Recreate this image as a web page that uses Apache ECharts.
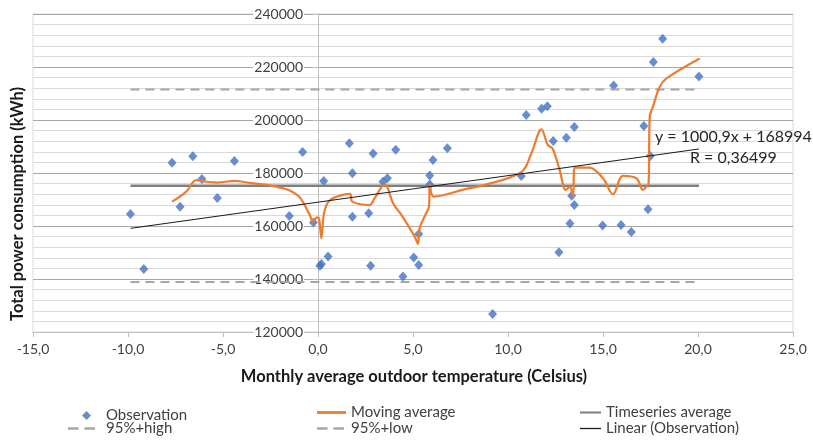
<!DOCTYPE html>
<html>
<head>
<meta charset="utf-8">
<script src="https://cdn.jsdelivr.net/npm/echarts@6/dist/echarts.min.js"></script>
<style>
  html, body { margin: 0; padding: 0; background: #fff; }
  #chart { width: 813px; height: 447px; }
</style>
</head>
<body>
<div id="chart"></div>
<script>
// Monthly observations: outdoor temperature (°C) vs. total power consumption (kWh)
const obsTemp = [
  -9.87, -9.17, -7.68, -7.26, -6.59, -6.11, -5.30, -4.40, -1.51, -0.81,
  -0.24, 0.10, 0.18, 0.30, 0.53, 1.65, 1.81, 1.81, 2.67, 2.77,
  2.90, 3.42, 3.65, 4.09, 4.47, 5.04, 5.30, 5.30, 5.88, 5.88,
  6.05, 6.81, 9.19, 10.70, 10.96, 11.77, 12.07, 12.38, 12.68, 13.07,
  13.26, 13.35, 13.49, 13.49, 14.98, 15.56, 15.95, 16.49, 17.15, 17.37,
  17.49, 17.65, 18.14, 20.05
];
const obsPower = [
  164500, 143800, 183900, 167300, 186300, 177700, 170600, 184500, 163800, 187900,
  161300, 145000, 145700, 177000, 148500, 191200, 179900, 163500, 164800, 145000,
  187400, 176700, 178000, 188800, 140900, 148100, 145300, 157000, 175700, 179100,
  184900, 189300, 126800, 178900, 201900, 204200, 205200, 192100, 150100, 193300,
  160900, 171400, 167900, 197400, 160200, 213000, 160400, 157700, 197700, 166300,
  186400, 221900, 230700, 216400
];

// Moving average of consumption, ordered by temperature
const maTemp = [
  -7.68, -6.93, -6.40, -5.87, -5.30, -4.40, -3.60, -2.65, -2.02, -1.49,
  -0.96, -0.44, -0.26, -0.05, 0.05, 0.18, 0.32, 0.62, 1.67, 1.81,
  2.72, 2.98, 3.51, 3.63, 3.95, 4.39, 5.09, 5.26, 5.35, 5.70,
  5.84, 5.89, 6.09, 7.81, 8.51, 10.69, 11.23, 11.76, 12.10, 12.34,
  12.72, 13.04, 13.25, 13.42, 13.51, 14.30, 15.00, 15.53, 16.05, 16.76,
  17.10, 17.28, 17.40, 17.46, 17.63, 17.98, 18.34, 20.09
];
const maPower = [
  169200, 173000, 177300, 176700, 176400, 177000, 176300, 175500, 174500, 173400,
  170800, 164300, 161700, 163300, 163000, 155400, 165000, 169700, 172100, 169200,
  167900, 170500, 175500, 175100, 168600, 164200, 156000, 153300, 159200, 164900,
  167300, 175500, 171100, 174000, 175000, 180300, 187400, 196500, 190500, 189300,
  181100, 173600, 174800, 171300, 182100, 182000, 178000, 172000, 178900, 178000,
  173600, 174800, 176000, 201200, 205000, 212500, 215700, 223200
];

// Reference levels and fitted trend
const seriesAverage = 175200;
const band95High = 211500;
const band95Low = 138900;
const trendSlope = 1000.9;
const trendIntercept = 168994;
const trendText = ['y = 1000,9x + 168994', 'R = 0,36499'];

// Axis ranges
const xMin = -15, xMax = 25, xStep = 5;
const yMin = 120000, yMax = 240000, yStep = 20000;

const xFrom = Math.min(...obsTemp);
const xTo = Math.max(...obsTemp);
const hLine = v => [[xFrom, v], [xTo, v]];
const trendAt = x => trendSlope * x + trendIntercept;

const FONT = 'Lato';
const labelColor = '#404040';
const GRID_LEFT = 33;

// Legend glyphs: plain strokes for lines, two dashes for the 95% bands
const ICON_THICK = 'path://M0,0h26v2.5h-26z';
const ICON_THIN = 'path://M0,0h20v1.2h-20z';
const ICON_DASH = 'path://M0,0h9v2h-9zM14,0h9v2h-9z';

const chart = echarts.init(document.getElementById('chart'), null, { renderer: 'canvas' });

function legendAt(name, icon, left, top, width, height, textPad) {
  return {
    data: [{ name: name, icon: icon }],
    left: left,
    top: top,
    orient: 'horizontal',
    itemWidth: width,
    itemHeight: height,
    padding: 0,
    selectedMode: false,
    textStyle: {
      fontFamily: FONT, fontSize: 15, color: labelColor,
      padding: [0, 0, 0, textPad || 0]
    }
  };
}

const option = {
  animation: false,
  backgroundColor: '#fff',
  grid: {
    left: GRID_LEFT, right: 20, top: 14, bottom: 115,
    containLabel: false,
    outerBoundsMode: 'none',
    show: true, borderColor: '#d9d9d9', borderWidth: 1
  },
  xAxis: {
    type: 'value',
    min: xMin, max: xMax, interval: xStep,
    axisLine: { show: true, onZero: false, lineStyle: { color: '#bfbfbf', width: 1 } },
    axisTick: { show: true, length: 5, lineStyle: { color: '#bfbfbf' } },
    splitLine: { show: false },
    axisLabel: {
      margin: 10,
      fontFamily: FONT, fontSize: 14, color: labelColor,
      formatter: v => v.toFixed(1).replace('.', ',')
    }
  },
  yAxis: {
    type: 'value',
    position: 'left',
    offset: 0,
    min: yMin, max: yMax, interval: yStep,
    axisLine: { show: true, onZero: false, lineStyle: { color: '#bfbfbf', width: 1 } },
    axisTick: { show: true, length: 5, lineStyle: { color: '#bfbfbf' } },
    minorTick: { show: false, splitNumber: 5 },
    splitLine: { show: true, lineStyle: { color: '#a6a6a6', width: 1 } },
    minorSplitLine: { show: true, lineStyle: { color: '#d9d9d9', width: 1 } },
    axisLabel: {
      margin: 14,
      fontFamily: FONT, fontSize: 14, color: labelColor,
      backgroundColor: '#fff',
      padding: [0, 1, 0, 1],
      formatter: v => String(v)
    }
  },
  legend: [
    legendAt('Observation', 'diamond', 82, 408, 9, 9, 10),
    legendAt('Moving average', ICON_THICK, 317, 405, 29, 14),
    legendAt('Timeseries average', ICON_THICK, 580, 405, 21, 14),
    legendAt('95%+high', ICON_DASH, 68, 421, 27, 14, 6),
    legendAt('95%+low', ICON_DASH, 317, 421, 27, 14, 2),
    legendAt('Linear (Observation)', ICON_THIN, 580, 421, 21, 14)
  ],
  series: [
    {
      name: 'Observation',
      type: 'scatter',
      z: 1,
      symbol: 'diamond',
      symbolSize: [9, 10],
      itemStyle: { color: '#4472c4' },
      data: obsTemp.map((t, i) => [t, obsPower[i]])
    },
    {
      name: 'Timeseries average',
      type: 'line',
      z: 2,
      symbol: 'none',
      lineStyle: { color: '#7f7f7f', width: 2.5 },
      itemStyle: { color: '#7f7f7f' },
      data: hLine(seriesAverage)
    },
    {
      name: '95%+high',
      type: 'line',
      z: 2,
      symbol: 'none',
      lineStyle: { color: '#a6a6a6', width: 2, type: [9, 6] },
      itemStyle: { color: '#a6a6a6' },
      data: hLine(band95High)
    },
    {
      name: '95%+low',
      type: 'line',
      z: 2,
      symbol: 'none',
      lineStyle: { color: '#a6a6a6', width: 2, type: [9, 6] },
      itemStyle: { color: '#a6a6a6' },
      data: hLine(band95Low)
    },
    {
      name: 'Moving average',
      type: 'line',
      z: 3,
      symbol: 'none',
      smooth: 0.35,
      lineStyle: { color: '#ed7d31', width: 2.25 },
      itemStyle: { color: '#ed7d31' },
      data: maTemp.map((t, i) => [t, maPower[i]])
    },
    {
      name: 'Linear (Observation)',
      type: 'line',
      z: 4,
      symbol: 'none',
      lineStyle: { color: '#1a1a1a', width: 1 },
      itemStyle: { color: '#1a1a1a' },
      data: [[xFrom, trendAt(xFrom)], [xTo, trendAt(xTo)]]
    }
  ],
  graphic: [
    {
      type: 'text', left: 655, top: 129, z: 10,
      style: { text: trendText[0], fontFamily: FONT, fontSize: 16, fill: '#262626' }
    },
    {
      type: 'text', left: 690, top: 150, z: 10,
      style: { text: trendText[1], fontFamily: FONT, fontSize: 16, fill: '#262626' }
    },
    {
      type: 'text', x: 414, y: 377, z: 10,
      style: {
        text: 'Monthly average outdoor temperature (Celsius)',
        fontFamily: FONT, fontSize: 16.5, fontWeight: 'bold', fill: '#1a1a1a',
        align: 'center', verticalAlign: 'middle',
        textAlign: 'center', textVerticalAlign: 'middle'
      }
    },
    {
      type: 'text', x: 18, y: 204, z: 10, rotation: Math.PI / 2,
      style: {
        text: 'Total power consumption (kWh)',
        fontFamily: FONT, fontSize: 16.5, fontWeight: 'bold', fill: '#1a1a1a',
        align: 'center', verticalAlign: 'middle',
        textAlign: 'center', textVerticalAlign: 'middle'
      }
    }
  ]
};

chart.setOption(option);

// Place the vertical axis where the temperature scale crosses 0 °C
const zeroX = chart.convertToPixel({ xAxisIndex: 0 }, 0);
chart.setOption({ yAxis: { offset: -(zeroX - GRID_LEFT) } });
</script>
</body>
</html>
